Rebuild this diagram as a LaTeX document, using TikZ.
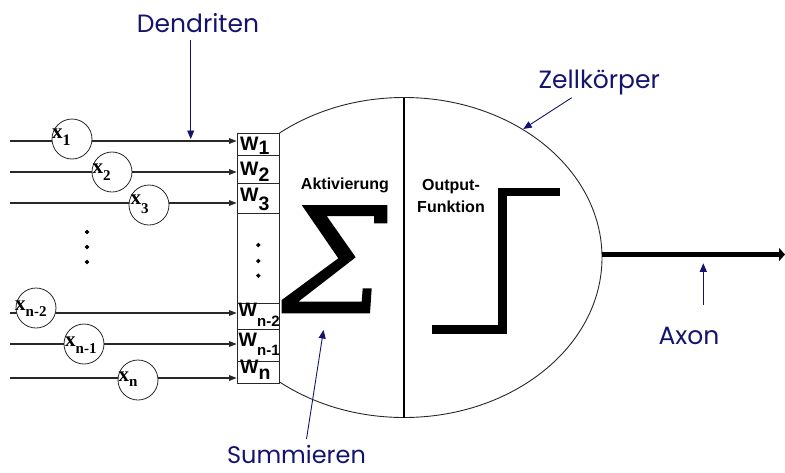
\documentclass[tikz,border=0pt]{standalone}
\usepackage{fontspec}
\setmainfont{Liberation Sans}
\newfontfamily\xfont{Liberation Serif}
\newfontfamily\lblfont{Poppins}
\usetikzlibrary{arrows.meta}
\definecolor{navy}{RGB}{20,20,110}
\definecolor{ink}{RGB}{40,40,40}
\begin{document}
\begin{tikzpicture}[x=1pt,y=-1pt,
 inp/.style={draw=ink, line width=1.2pt, -{Triangle[length=7.5pt,width=5.5pt]}},
 neuron/.style={circle, draw=ink, line width=0.8pt, fill=white, minimum size=40pt, inner sep=0pt},
 wcell/.style={draw=ink, line width=1.1pt, fill=white, minimum width=42.6pt, inner sep=0pt, anchor=north west},
 wlbl/.style={font=\bfseries\fontsize{19.5}{19.5}\selectfont, inner sep=0pt, anchor=base west},
 xlbl/.style={font=\xfont\bfseries\fontsize{21}{21}\selectfont, inner sep=0pt, anchor=base west},
 blbl/.style={font=\lblfont\fontsize{25}{25}\selectfont, text=navy, inner sep=0pt, anchor=base},
 barr/.style={draw=navy, line width=0.9pt, -{Triangle[length=8.5pt,width=7pt]}},
 blk/.style={font=\bfseries\fontsize{16}{16}\selectfont, inner sep=0pt, anchor=base},
 dotm/.style={fill=black}
]
\useasboundingbox (0,0) rectangle (785,472);

% cell body (ellipse, right of the weight column)
\begin{scope}
\clip (279.3,0) rectangle (785,472);
\draw[draw=ink, line width=0.9pt] (404,257.5) ellipse [x radius=198, y radius=160];
\end{scope}
\draw[line width=2pt] (404,97.5) -- (404,417.5);

% weight column
\node[wcell, minimum height=21.7pt] (w1) at (236.7,133.3) {};
\node[wcell, minimum height=28.3pt] (w2) at (236.7,155) {};
\node[wcell, minimum height=30pt] (w3) at (236.7,183.3) {};
\node[wcell, minimum height=89.4pt] (wd) at (236.7,213.3) {};
\node[wcell, minimum height=26.6pt] (wn2) at (236.7,302.7) {};
\node[wcell, minimum height=31.4pt] (wn1) at (236.7,329.3) {};
\node[wcell, minimum height=22.6pt] (wn) at (236.7,360.7) {};

\node[wlbl] (t1) at (240,150.7) {W\raisebox{-4pt}{1}};
\node[wlbl] (t2) at (240,175) {W\raisebox{-6pt}{2}};
\node[wlbl] (t3) at (240,201.7) {W\raisebox{-9pt}{3}};
\node[wlbl] (t4) at (238.5,316.7) {W\raisebox{-10pt}{\fontsize{15}{15}\selectfont n-2}};
\node[wlbl] (t5) at (238.5,346.7) {W\raisebox{-9pt}{\fontsize{15}{15}\selectfont n-1}};
\node[wlbl] (t6) at (240,373.3) {W\raisebox{-6pt}{n}};

\foreach \y in {245,261,275.7}{
  \fill[dotm] (258.3,\y) +(0,-2.3) -- +(2.3,0) -- +(0,2.3) -- +(-2.3,0) -- cycle;
}

% inputs
\coordinate (s1) at (9.5,141);
\coordinate (s2) at (9.5,172);
\coordinate (s3) at (9.5,203);
\coordinate (s4) at (9.5,313);
\coordinate (s5) at (9.5,344);
\coordinate (s6) at (9.5,378);
\draw[inp] (s1) -- (s1 -| w1.west);
\draw[inp] (s2) -- (s2 -| w2.west);
\draw[inp] (s3) -- (s3 -| w3.west);
\draw[inp] (s4) -- (s4 -| wn2.west);
\draw[inp] (s5) -- (s5 -| wn1.west);
\draw[inp] (s6) -- (s6 -| wn.west);

\node[neuron] (c1) at (72,139) {};
\node[neuron] (c2) at (112,172) {};
\node[neuron] (c3) at (149,205) {};
\node[neuron] (c4) at (36,308) {};
\node[neuron] (c5) at (84,344) {};
\node[neuron] (c6) at (138,380) {};

\node[xlbl] (x1) at (52,138.3) {x\raisebox{-7.5pt}{\fontsize{16}{16}\selectfont 1}};
\node[xlbl] (x2) at (92.5,173) {x\raisebox{-7pt}{\fontsize{15}{15}\selectfont 2}};
\node[xlbl] (x3) at (130.5,204) {x\raisebox{-9pt}{\fontsize{15}{15}\selectfont 3}};
\node[xlbl] (x4) at (15,310) {x\raisebox{-6.5pt}{\fontsize{15}{15}\selectfont n-2}};
\node[xlbl] (x5) at (65,346) {x\raisebox{-7pt}{\fontsize{15}{15}\selectfont n-1}};
\node[xlbl] (x6) at (118.3,381.7) {x\raisebox{-5pt}{\fontsize{15}{15}\selectfont n}};

\foreach \y in {232,247,262}{
  \fill[dotm] (87,\y) +(0,-2.3) -- +(2.3,0) -- +(0,2.3) -- +(-2.3,0) -- cycle;
}

% activation: sigma
\fill[black] (301.7,205) -- (387.3,205) -- (387.3,223.3) -- (374,223.3) -- (374,216)
  -- (326.7,216) -- (355.7,257.3) -- (298.3,301.7) -- (361.7,301.7) -- (362.7,288.3)
  -- (371.7,288.3) -- (370,313.3) -- (281.7,313.3) -- (281.7,300) -- (338.3,258.3) -- cycle;
\node[blk] (akt) at (345,189.3) {Aktivierung};

% output function: step
\draw[line width=8.5pt, line join=miter] (431.7,329.5) -- (502.5,329.5) -- (502.5,192.2) -- (560,192.2);
\node[blk] (out1) at (451,190.7) {Output-};
\node[blk] (out2) at (451,212.7) {Funktion};

% axon
\coordinate (axs) at (601.5,254.5);
\coordinate (axe) at (785,254.5);
\draw[line width=5pt, -{Triangle[length=6pt,width=13pt]}] (axs) -- (axe);

% blue labels
\node[blbl] (dend) at (198,32.3) {Dendriten};
\node[blbl] (zell) at (599.3,88.3) {Zellkörper};
\node[blbl] (axon) at (689,344.3) {Axon};
\node[blbl, font=\lblfont\fontsize{24}{24}\selectfont] (summ) at (296.5,463.5) {Summieren};

\coordinate (d0) at (190.7,40);
\coordinate (d1) at (190.7,139);
\draw[barr] (d0) -- (d1);
\coordinate (z0) at (571.7,97.7);
\coordinate (z1) at (523.3,129);
\draw[barr] (z0) -- (z1);
\coordinate (a0) at (703.3,305);
\coordinate (a1) at (703.3,263.3);
\draw[barr] (a0) -- (a1);
\coordinate (m0) at (306.5,439);
\coordinate (m1) at (323.5,330);
\draw[barr] (m0) -- (m1);
\end{tikzpicture}
\end{document}
